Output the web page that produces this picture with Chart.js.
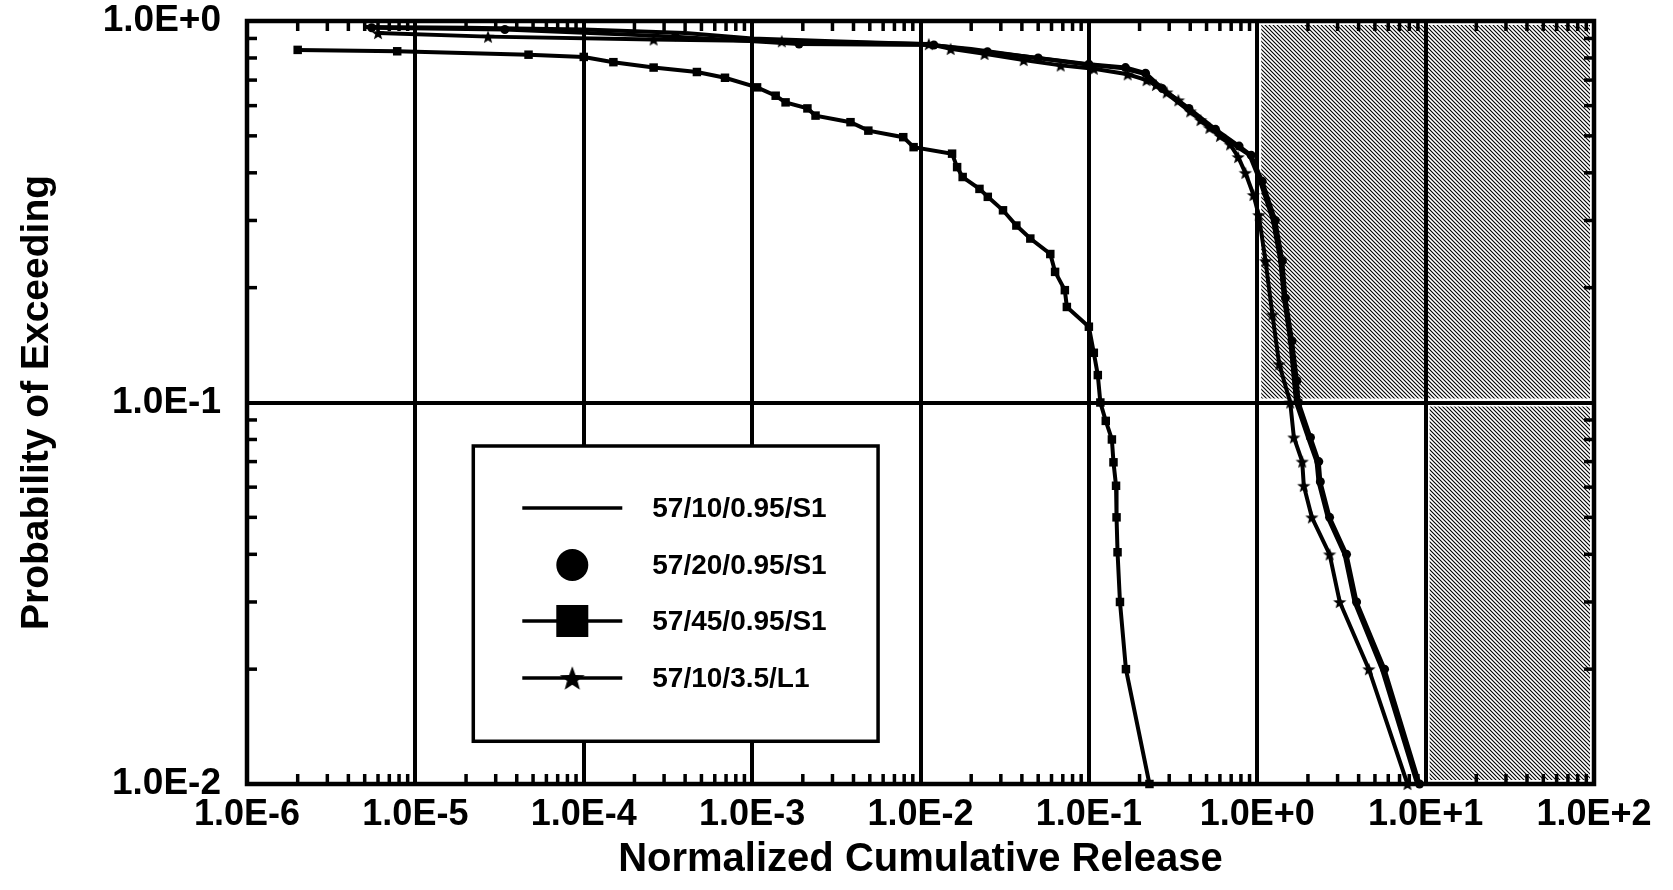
<!DOCTYPE html>
<html>
<head>
<meta charset="utf-8">
<script src="https://cdn.jsdelivr.net/npm/chart.js@4/dist/chart.umd.min.js"></script>
<style>
  html, body { margin: 0; padding: 0; background: #fff; }
  #wrap { width: 1673px; height: 890px; position: relative; }
</style>
</head>
<body>
<div id="wrap"><canvas id="chart"></canvas></div>
<script>
// Probability of exceeding vs normalized cumulative release (log-log CCDF)

const seriesNames = ['57/10/0.95/S1', '57/20/0.95/S1', '57/45/0.95/S1', '57/10/3.5/L1'];

// 57/10/0.95/S1 - plain line
const lineX = [5.0e-6, 2.0e-5, 1.0e-4, 4.0e-4, 1.0e-3, 3.0e-3, 1.0e-2, 2.0e-2, 4.0e-2, 0.1, 0.16, 0.21, 0.27, 0.38, 0.55, 0.76, 0.9, 1.04, 1.24, 1.37, 1.44, 1.57, 1.70, 2.0, 2.25, 2.31, 2.62, 3.3, 3.78, 5.5, 8.9];
const lineY = [0.965, 0.96, 0.95, 0.93, 0.90, 0.885, 0.87, 0.845, 0.81, 0.768, 0.752, 0.728, 0.662, 0.588, 0.52, 0.468, 0.445, 0.38, 0.30, 0.235, 0.188, 0.145, 0.10, 0.081, 0.07, 0.062, 0.05, 0.04, 0.03, 0.02, 0.01];

// 57/20/0.95/S1 - circles
const circleX = [5.5e-6, 3.4e-5, 3.5e-4, 1.9e-3, 1.2e-2, 2.5e-2, 5.0e-2, 0.1, 0.165, 0.217, 0.273, 0.393, 0.565, 0.78, 0.92, 1.07, 1.28, 1.41, 1.47, 1.61, 1.72, 1.76, 2.07, 2.32, 2.37, 2.69, 3.39, 3.89, 5.7, 9.2];
const circleY = [0.96, 0.95, 0.91, 0.87, 0.865, 0.83, 0.80, 0.77, 0.755, 0.73, 0.665, 0.59, 0.52, 0.47, 0.445, 0.38, 0.30, 0.235, 0.188, 0.145, 0.114, 0.10, 0.081, 0.070, 0.062, 0.050, 0.040, 0.030, 0.020, 0.010];

// 57/45/0.95/S1 - squares
const squareX = [2.0e-6, 7.8e-6, 4.7e-5, 1.0e-4, 1.5e-4, 2.6e-4, 4.7e-4, 6.9e-4, 1.07e-3, 1.38e-3, 1.58e-3, 2.13e-3, 2.38e-3, 3.84e-3, 4.9e-3, 7.9e-3, 9.1e-3, 1.54e-2, 1.65e-2, 1.78e-2, 2.24e-2, 2.51e-2, 3.09e-2, 3.71e-2, 4.49e-2, 5.9e-2, 6.3e-2, 7.2e-2, 7.4e-2, 0.100, 0.107, 0.113, 0.117, 0.126, 0.137, 0.140, 0.145, 0.146, 0.148, 0.153, 0.166, 0.229];
const squareY = [0.84, 0.833, 0.816, 0.805, 0.78, 0.755, 0.735, 0.71, 0.67, 0.637, 0.612, 0.59, 0.565, 0.543, 0.516, 0.496, 0.467, 0.449, 0.414, 0.39, 0.363, 0.346, 0.319, 0.291, 0.269, 0.245, 0.22, 0.197, 0.178, 0.158, 0.135, 0.118, 0.100, 0.0895, 0.080, 0.0697, 0.0605, 0.050, 0.0405, 0.030, 0.020, 0.010];

// 57/10/3.5/L1 - stars
const starX = [6.0e-6, 2.7e-5, 2.6e-4, 1.5e-3, 1.12e-2, 1.51e-2, 2.4e-2, 4.1e-2, 6.8e-2, 0.107, 0.17, 0.22, 0.25, 0.29, 0.34, 0.40, 0.46, 0.52, 0.60, 0.69, 0.77, 0.85, 0.95, 1.02, 1.12, 1.23, 1.35, 1.57, 1.65, 1.85, 1.89, 2.11, 2.69, 3.09, 4.6, 7.8];
const starY = [0.93, 0.91, 0.895, 0.885, 0.87, 0.845, 0.82, 0.79, 0.765, 0.75, 0.725, 0.70, 0.68, 0.65, 0.62, 0.58, 0.55, 0.525, 0.50, 0.475, 0.44, 0.40, 0.35, 0.31, 0.235, 0.17, 0.126, 0.10, 0.081, 0.070, 0.0605, 0.050, 0.040, 0.030, 0.020, 0.010];

// axes
const xTickValues = [1e-6, 1e-5, 1e-4, 1e-3, 1e-2, 1e-1, 1e0, 1e1, 1e2];
const xTickLabels = ['1.0E-6', '1.0E-5', '1.0E-4', '1.0E-3', '1.0E-2', '1.0E-1', '1.0E+0', '1.0E+1', '1.0E+2'];
const yTickValues = [1e-2, 1e-1, 1e0];
const yTickLabels = ['1.0E-2', '1.0E-1', '1.0E+0'];

// hatched regions (data units)
const shadeXMin = [1, 10];
const shadeXMax = [100, 100];
const shadeYMin = [0.1, 0.01];
const shadeYMax = [1, 0.1];

const FONT = '"Liberation Sans", Arial, Helvetica, sans-serif';

function toPoints(xs, ys) {
    return xs.map((x, i) => ({ x: x, y: ys[i] }));
}

function makeStar(r) {
    const s = Math.ceil(r * 2 + 2);
    const c = document.createElement('canvas');
    c.width = s; c.height = s;
    const g = c.getContext('2d');
    g.translate(s / 2, s / 2 + r * 0.1);
    g.beginPath();
    for (let i = 0; i < 10; i++) {
        const rad = i % 2 === 0 ? r : r * 0.42;
        const a = -Math.PI / 2 + i * Math.PI / 5;
        g.lineTo(rad * Math.cos(a), rad * Math.sin(a));
    }
    g.closePath();
    g.fillStyle = '#000';
    g.fill();
    return c;
}

function hatchPattern(ctx) {
    const s = 4;
    const c = document.createElement('canvas');
    c.width = s; c.height = s;
    const g = c.getContext('2d');
    g.strokeStyle = '#000';
    g.lineWidth = 1.1;
    g.beginPath();
    g.moveTo(-1, -1); g.lineTo(s + 1, s + 1);
    g.moveTo(-1, s - 1); g.lineTo(1, s + 1);
    g.moveTo(s - 1, -1); g.lineTo(s + 1, 1);
    g.stroke();
    return ctx.createPattern(c, 'repeat');
}

const plotStar = makeStar(7);
const legendStar = makeStar(13);

// white page + hatched zones, under the grid
const backgroundPlugin = {
    id: 'background',
    beforeDraw(chart) {
        const { ctx, scales: { x, y } } = chart;
        ctx.save();
        ctx.fillStyle = '#fff';
        ctx.fillRect(0, 0, chart.width, chart.height);
        ctx.fillStyle = hatchPattern(ctx);
        const inset = 4;
        for (let i = 0; i < shadeXMin.length; i++) {
            const x0 = x.getPixelForValue(shadeXMin[i]) + inset;
            const x1 = x.getPixelForValue(shadeXMax[i]) - inset;
            const y0 = y.getPixelForValue(shadeYMax[i]) + inset;
            const y1 = y.getPixelForValue(shadeYMin[i]) - inset;
            ctx.fillRect(x0, y0, x1 - x0, y1 - y0);
        }
        ctx.restore();
    }
};

// frame and inward minor ticks on all four sides
const framePlugin = {
    id: 'frame',
    beforeDatasetsDraw(chart) {
        const { ctx, chartArea: a, scales: { x, y } } = chart;
        const len = 10, w = 3.5;
        ctx.save();
        ctx.fillStyle = '#000';
        for (let d = -6; d < 2; d++) {
            for (let k = 2; k < 10; k++) {
                const px = x.getPixelForValue(k * Math.pow(10, d));
                ctx.fillRect(px - w / 2, a.bottom - len, w, len);
                ctx.fillRect(px - w / 2, a.top, w, len);
            }
        }
        for (let d = -2; d < 0; d++) {
            for (let k = 2; k < 10; k++) {
                const py = y.getPixelForValue(k * Math.pow(10, d));
                ctx.fillRect(a.left, py - w / 2, len, w);
                ctx.fillRect(a.right - len, py - w / 2, len, w);
            }
        }
        ctx.strokeStyle = '#000';
        ctx.lineWidth = 4.5;
        ctx.strokeRect(a.left, a.top, a.right - a.left, a.bottom - a.top);
        ctx.restore();
    }
};

// boxed legend inside the plot, lower left
const boxLegendPlugin = {
    id: 'boxLegend',
    afterDatasetsDraw(chart) {
        const { ctx, chartArea: a } = chart;
        const W = a.right - a.left, H = a.bottom - a.top;
        const L = a.left + W * 0.168, R = a.left + W * 0.4685;
        const T = a.top + H * 0.557, B = a.top + H * 0.944;
        ctx.save();
        ctx.fillStyle = '#fff';
        ctx.fillRect(L, T, R - L, B - T);
        ctx.strokeStyle = '#000';
        ctx.lineWidth = 3.5;
        ctx.strokeRect(L, T, R - L, B - T);

        const rows = [T + 62, T + 119, T + 175, T + 232];
        const x0 = L + 49, x1 = L + 149, xm = L + 99, xt = L + 179;
        ctx.fillStyle = '#000';
        ctx.lineWidth = 3.5;
        // row 1: line only
        ctx.beginPath(); ctx.moveTo(x0, rows[0]); ctx.lineTo(x1, rows[0]); ctx.stroke();
        // row 2: circle only
        ctx.beginPath(); ctx.arc(xm, rows[1], 16, 0, Math.PI * 2); ctx.fill();
        // row 3: line + square
        ctx.beginPath(); ctx.moveTo(x0, rows[2]); ctx.lineTo(x1, rows[2]); ctx.stroke();
        ctx.fillRect(xm - 16, rows[2] - 16, 32, 32);
        // row 4: line + star
        ctx.beginPath(); ctx.moveTo(x0, rows[3]); ctx.lineTo(x1, rows[3]); ctx.stroke();
        ctx.drawImage(legendStar, xm - legendStar.width / 2, rows[3] - legendStar.height / 2);

        ctx.font = 'bold 28px ' + FONT;
        ctx.textAlign = 'left';
        ctx.textBaseline = 'middle';
        seriesNames.forEach((name, i) => ctx.fillText(name, xt, rows[i] + 1));
        ctx.restore();
    }
};

const common = { borderColor: '#000', backgroundColor: '#000', borderWidth: 4, showLine: true, clip: false, pointBorderWidth: 0 };

new Chart(document.getElementById('chart'), {
    type: 'scatter',
    data: {
        datasets: [
            Object.assign({ label: seriesNames[0], data: toPoints(lineX, lineY), pointRadius: 0 }, common),
            Object.assign({ label: seriesNames[1], data: toPoints(circleX, circleY), pointStyle: 'circle', pointRadius: 4.5 }, common),
            Object.assign({ label: seriesNames[2], data: toPoints(squareX, squareY), pointStyle: 'rect', pointRadius: 6 }, common),
            Object.assign({ label: seriesNames[3], data: toPoints(starX, starY), pointStyle: plotStar, pointRadius: 7 }, common)
        ]
    },
    options: {
        responsive: true,
        maintainAspectRatio: false,
        animation: false,
        layout: { padding: { top: 21, right: 79, left: 0, bottom: 0 } },
        plugins: {
            legend: { display: false },
            tooltip: { enabled: false }
        },
        scales: {
            x: {
                type: 'logarithmic',
                min: 1e-6,
                max: 1e2,
                afterBuildTicks: (scale) => { scale.ticks = xTickValues.map(v => ({ value: v })); },
                afterFit: (scale) => { scale.height = 106; },
                ticks: {
                    autoSkip: false,
                    maxRotation: 0,
                    padding: 9,
                    color: '#000',
                    font: { family: FONT, size: 36, weight: 'bold' },
                    callback: (v, i) => xTickLabels[i]
                },
                grid: { color: '#000', lineWidth: 4, drawTicks: false },
                border: { display: false },
                title: {
                    display: true,
                    text: 'Normalized Cumulative Release',
                    color: '#000',
                    font: { family: FONT, size: 40, weight: 'bold' },
                    padding: { top: 0, bottom: 6 }
                }
            },
            y: {
                type: 'logarithmic',
                min: 1e-2,
                max: 1,
                afterBuildTicks: (scale) => { scale.ticks = yTickValues.map(v => ({ value: v })); },
                afterFit: (scale) => {
                    scale.width = 247;
                    scale.paddingTop = 0;
                    scale.paddingBottom = 0;
                },
                ticks: {
                    autoSkip: false,
                    padding: 26,
                    color: '#000',
                    font: { family: FONT, size: 37, weight: 'bold' },
                    callback: (v, i) => yTickLabels[i]
                },
                grid: { color: '#000', lineWidth: 4, drawTicks: false },
                border: { display: false },
                title: {
                    display: true,
                    text: 'Probability of Exceeding',
                    color: '#000',
                    font: { family: FONT, size: 39, weight: 'bold' },
                    padding: { top: 14, bottom: 0 }
                }
            }
        }
    },
    plugins: [backgroundPlugin, framePlugin, boxLegendPlugin]
});
</script>
</body>
</html>
